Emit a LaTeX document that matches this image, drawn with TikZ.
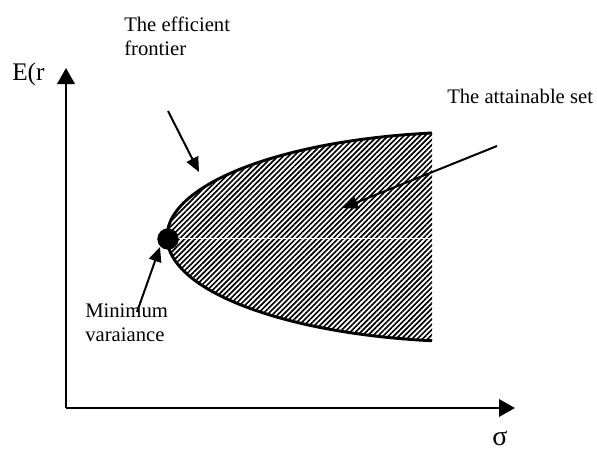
\documentclass[tikz,border=0pt]{standalone}
\usepackage{fontspec}
\setmainfont{Liberation Serif}
\usetikzlibrary{arrows.meta,patterns.meta}
\begin{document}
\begin{tikzpicture}[x=0.75pt,y=-0.75pt,
  axis/.style={line width=1.9pt,-{Triangle[length=12pt,width=13pt]}},
  pointer/.style={line width=1.5pt,-{Triangle[length=11pt,width=9.5pt]}},
  lbl/.style={inner sep=0pt,font=\fontsize{15.5}{18}\selectfont,align=left,text=black},
  big/.style={inner sep=0pt,font=\fontsize{19}{22}\selectfont,text=black},
  hatch/.style={pattern={Lines[angle=45,distance=2.8pt,line width=1.25pt]}},
  frontier/.style={line width=2.2pt}]
\useasboundingbox (0,0) rectangle (597,450);
% axes
\coordinate (O) at (66,408);
\coordinate (ytip) at (66,68);
\coordinate (xtip) at (515,408);
% attainable set
\coordinate (top) at (432,133);
\fill[hatch] (top) arc[start angle=261.65, end angle=98.35, x radius=310, y radius=105] -- cycle;
\draw[white,line width=0.7pt] (178,238) -- (431,238);
\draw[frontier] (top) arc[start angle=261.65, end angle=98.35, x radius=310, y radius=105];
\draw[axis] (O) -- (ytip);
\draw[axis] (O) -- (xtip);
% minimum variance point
\node[circle,fill=black,minimum size=16pt,inner sep=0pt] (mv) at (168,239) {};
% labels
\node[big,anchor=base west] (Er) at (12,80) {E(r};
\node[big,anchor=base west,font=\fontsize{21}{24}\selectfont] (sig) at (492,445) {σ};
\node[lbl,anchor=north west] (eff) at (124,17) {The efficient\\frontier};
\node[lbl,anchor=base west] (att) at (447,103) {The attainable set};
\node[lbl,anchor=north west] (minv) at (85,304) {Minimum\\varaiance};
% pointers
\coordinate (p1s) at (168,111); \coordinate (p1e) at (199,172);
\coordinate (p2s) at (497,146); \coordinate (p2e) at (343,208);
\coordinate (p3s) at (137,312); \coordinate (p3e) at (160,247);
\draw[pointer] (p1s) -- (p1e);
\draw[pointer] (p2s) -- (p2e);
\draw[pointer] (p3s) -- (p3e);
\end{tikzpicture}
\end{document}
